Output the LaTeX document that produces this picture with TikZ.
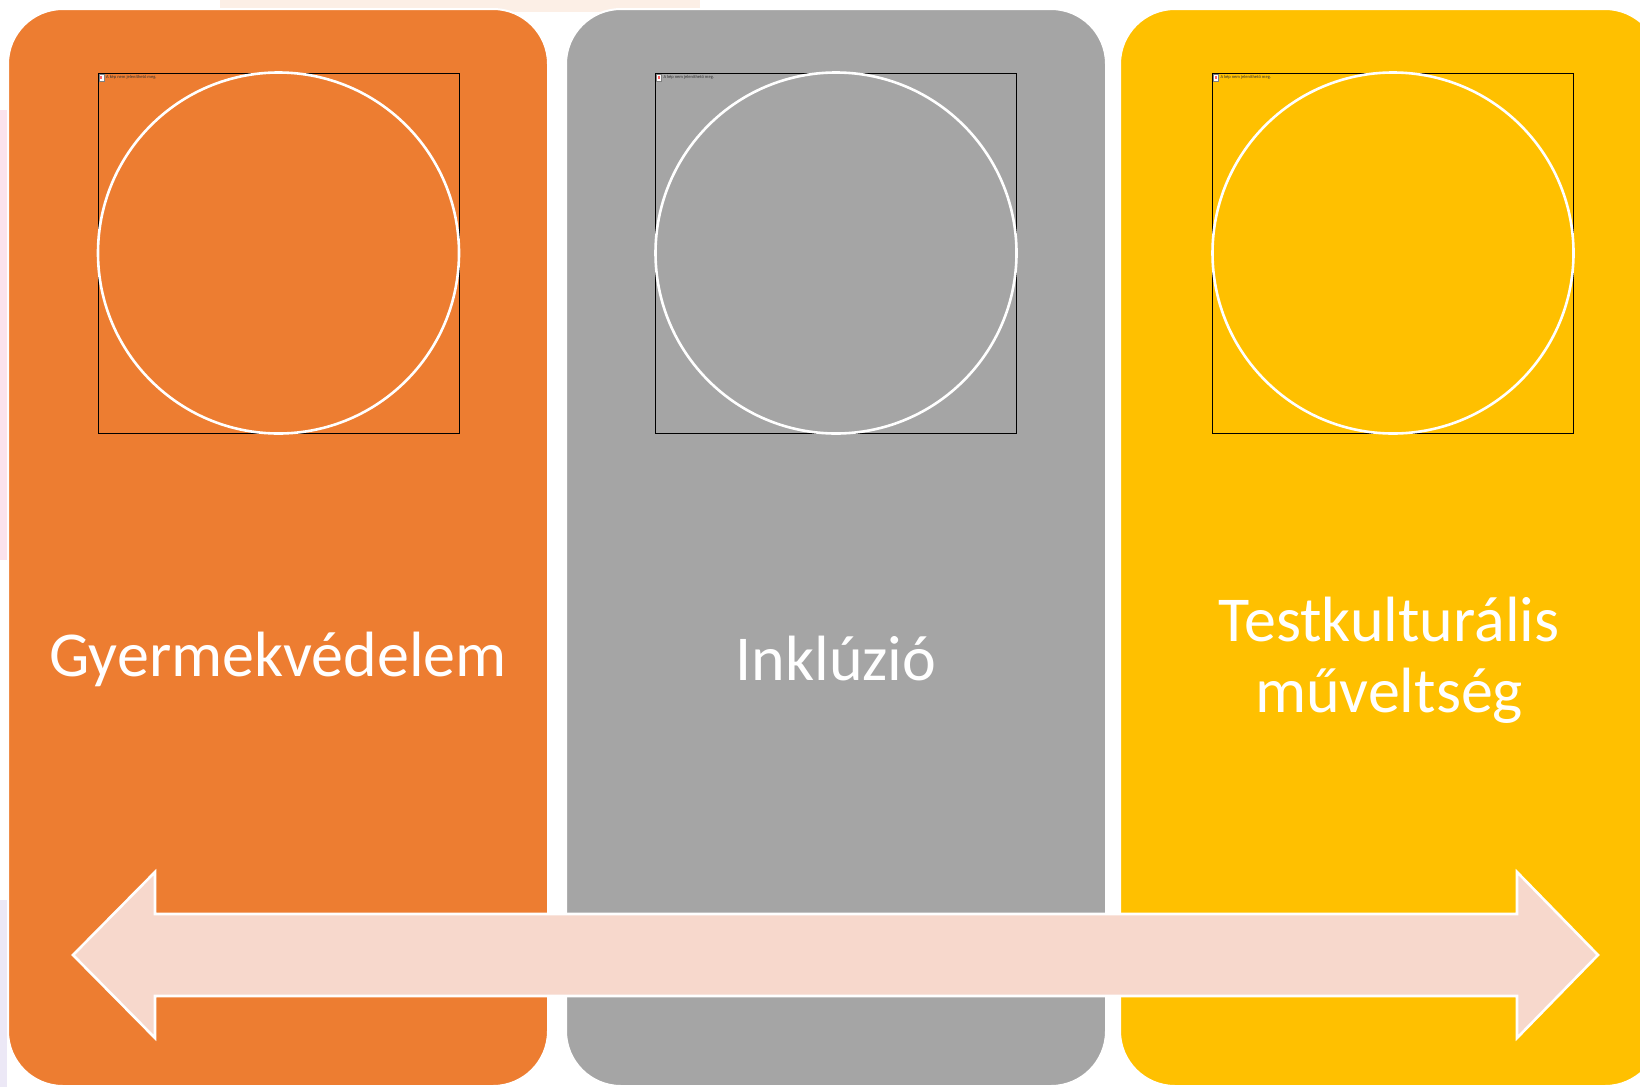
\documentclass[tikz,border=0pt]{standalone}
\usepackage{fontspec}
\setmainfont{Carlito}
\definecolor{cOrange}{HTML}{ED7D31}
\definecolor{cGray}{HTML}{A5A5A5}
\definecolor{cYellow}{HTML}{FFC000}
\definecolor{cArrow}{HTML}{F7D8CC}
\definecolor{cFaintA}{HTML}{FCEFE6}
\definecolor{cFaintB}{HTML}{FBE3EE}
\definecolor{cFaintC}{HTML}{ECE8F6}
\tikzset{
  panel/.style={draw=white, line width=2pt, rounded corners=55pt},
  frame/.style={draw=black, line width=0.9pt},
  ring/.style={draw=white, line width=2.6pt},
  label/.style={text=white, font=\fontsize{64}{71}\selectfont, align=center, inner sep=0pt},
  missing/.style={text=black!80, font=\fontsize{4.5}{5}\selectfont, anchor=west, inner sep=0pt},
  icon/.style={draw=black!50, fill=white, line width=0.4pt, minimum width=5pt, minimum height=7pt, inner sep=0pt},
  bigarrow/.style={draw=white, line width=2.6pt, fill=cArrow, line join=miter}
}
\begin{document}
\begin{tikzpicture}[x=1pt,y=-1pt]
\useasboundingbox (0,0) rectangle (1640,1087);
% faint background
\fill[cFaintA] (220,0) rectangle (700,12);
\fill[cFaintB] (0,110) rectangle (7,560);
\fill[cFaintC] (0,900) rectangle (7,1087);
% panels
\draw[panel, fill=cOrange] (8,9) rectangle (548,1086);
\draw[panel, fill=cGray] (566,9) rectangle (1106,1086);
\draw[panel, fill=cYellow] (1120,9) rectangle (1660,1086);
% picture placeholders
\foreach \n/\cx in {a/278.5, b/836, c/1393}{
  \draw[frame] (\cx-180.5,73) rectangle (\cx+180.5,433);
  \draw[ring] (\cx,253) circle (180.5);
  \node[icon] (ic\n) at (\cx-177,77.5) {};
  \fill[red!60] (\cx-178.5,76) rectangle (\cx-176.5,78.5);
  \node[missing] (tx\n) at (\cx-172.5,77) {A kép nem jeleníthető meg.};
}
% labels
\node[label] (t1) at (278,659) {Gyermekvédelem};
\node[label] (t2) at (836,659) {Inklúzió};
\node[label] (t3) at (1389,660) {Testkulturális\\műveltség};
% double arrow
\coordinate (ltip) at (73,955);
\coordinate (rtip) at (1598,955);
\draw[bigarrow] (ltip) -- (155,872) -- (155,914) -- (1517,914) -- (1517,872)
  -- (rtip) -- (1517,1038) -- (1517,996) -- (155,996) -- (155,1038) -- cycle;
\end{tikzpicture}
\end{document}
